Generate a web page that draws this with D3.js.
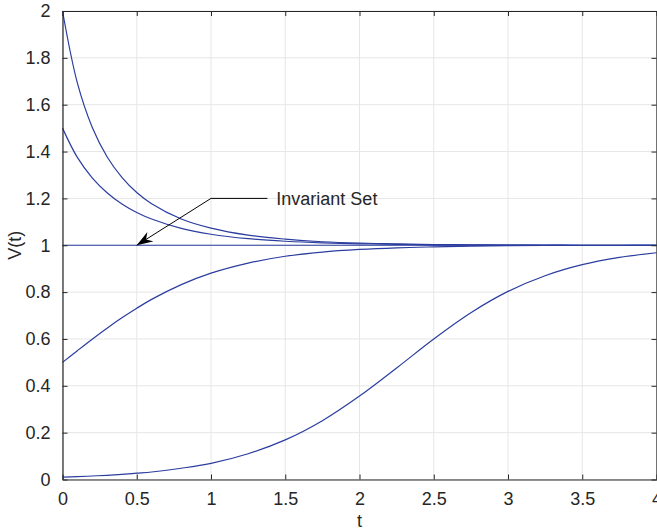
<!DOCTYPE html>
<html>
<head>
<meta charset="utf-8">
<script src="https://cdn.jsdelivr.net/npm/d3@7"></script>
<style>
  body { margin: 0; background: #fff; }
  #chart { width: 657px; height: 531px; }
  text { font-family: "Liberation Sans", Arial, Helvetica, sans-serif; fill: #262626; }
</style>
</head>
<body>
<div id="chart"></div>
<script>
// Sample times
var times = [0, 0.1, 0.2, 0.3, 0.4, 0.5, 0.6, 0.8, 1.0, 1.25, 1.5, 1.75, 2.0, 2.25, 2.5, 2.75, 3.0, 3.25, 3.5, 3.75, 4.0];

// V(t) for each trajectory
var startAt2 = [2.000, 1.693, 1.504, 1.378, 1.290, 1.225, 1.177, 1.112, 1.073, 1.043, 1.026, 1.015, 1.009, 1.006, 1.003, 1.002, 1.001, 1.001, 1.000, 1.000, 1.000];
var startAt15 = [1.500, 1.375, 1.288, 1.224, 1.176, 1.140, 1.112, 1.072, 1.047, 1.028, 1.017, 1.010, 1.006, 1.004, 1.002, 1.001, 1.001, 1.000, 1.000, 1.000, 1.000];
var startAt1 = [1, 1, 1, 1, 1, 1, 1, 1, 1, 1, 1, 1, 1, 1, 1, 1, 1, 1, 1, 1, 1];
var startAt05 = [0.500, 0.550, 0.599, 0.646, 0.690, 0.731, 0.769, 0.832, 0.881, 0.924, 0.953, 0.971, 0.982, 0.989, 0.993, 0.996, 0.998, 0.999, 0.999, 0.999, 1.000];
var startAt001 = [0.010, 0.012, 0.015, 0.018, 0.022, 0.027, 0.032, 0.048, 0.069, 0.110, 0.169, 0.251, 0.356, 0.476, 0.600, 0.712, 0.803, 0.870, 0.917, 0.948, 0.968];

var series = [startAt2, startAt15, startAt1, startAt05, startAt001];

// Tick labels
var xTicks = [0, 0.5, 1, 1.5, 2, 2.5, 3, 3.5, 4];
var yTicks = [0, 0.2, 0.4, 0.6, 0.8, 1, 1.2, 1.4, 1.6, 1.8, 2];

// Annotation (data units)
var noteText = 'Invariant Set';
var arrowTip = [0.5, 1];
var arrowElbow = [1, 1.2];
var noteLineEnd = [1.38, 1.2];
var notePos = [1.44, 1.2];

var fullWidth = 657, fullHeight = 531;
var margin = {top: 11, right: 0.5, bottom: 51.5, left: 62.5};
var width = fullWidth - margin.left - margin.right;
var height = fullHeight - margin.top - margin.bottom;

var svg = d3.select('#chart')
	.append('svg')
	.attr('width', fullWidth)
	.attr('height', fullHeight);

var g = svg.append('g')
	.attr('transform', 'translate(' + margin.left + ',' + margin.top + ')');

var xScale = d3.scaleLinear().domain([0, 4]).range([0, width]);
var yScale = d3.scaleLinear().domain([0, 2]).range([height, 0]);

// Grid
g.append('g').selectAll('line')
	.data(xTicks)
	.enter()
	.append('line')
	.attr('x1', function(d) { return xScale(d); })
	.attr('x2', function(d) { return xScale(d); })
	.attr('y1', 0)
	.attr('y2', height)
	.attr('stroke', '#e6e6e6')
	.attr('stroke-width', 1);

g.append('g').selectAll('line')
	.data(yTicks)
	.enter()
	.append('line')
	.attr('x1', 0)
	.attr('x2', width)
	.attr('y1', function(d) { return yScale(d); })
	.attr('y2', function(d) { return yScale(d); })
	.attr('stroke', '#e6e6e6')
	.attr('stroke-width', 1);

// Curves
var line = d3.line()
	.x(function(d, i) { return xScale(times[i]); })
	.y(function(d) { return yScale(d); })
	.curve(d3.curveCatmullRom);

g.selectAll('path.curve')
	.data(series)
	.enter()
	.append('path')
	.attr('class', 'curve')
	.attr('d', line)
	.attr('fill', 'none')
	.attr('stroke', '#2b3d9f')
	.attr('stroke-width', 1.2);

// Axes
function styleAxis(sel) {
	sel.select('.domain').attr('stroke', '#262626').attr('stroke-width', 1.2);
	sel.selectAll('.tick line').attr('stroke', '#262626').attr('stroke-width', 1);
	sel.selectAll('.tick text').style('font-size', '18px').attr('fill', '#262626');
}

var xAxis = g.append('g')
	.attr('transform', 'translate(0,' + height + ')')
	.call(d3.axisBottom(xScale).tickValues(xTicks).tickSizeInner(-5).tickSizeOuter(0).tickPadding(13).tickFormat(d3.format('')));
styleAxis(xAxis);

var yAxis = g.append('g')
	.call(d3.axisLeft(yScale).tickValues(yTicks).tickSizeInner(-5).tickSizeOuter(0).tickPadding(12).tickFormat(d3.format('')));
styleAxis(yAxis);

var topAxis = g.append('g')
	.call(d3.axisTop(xScale).tickValues(xTicks).tickSizeInner(-5).tickSizeOuter(0).tickFormat(''));
styleAxis(topAxis);

var rightAxis = g.append('g')
	.attr('transform', 'translate(' + width + ',0)')
	.call(d3.axisRight(yScale).tickValues(yTicks).tickSizeInner(-5).tickSizeOuter(0).tickFormat(''));
styleAxis(rightAxis);

// Axis labels
svg.append('text')
	.attr('x', margin.left + width / 2)
	.attr('y', 527)
	.attr('text-anchor', 'middle')
	.style('font-size', '18px')
	.text('t');

svg.append('text')
	.attr('transform', 'translate(21,' + (margin.top + height / 2) + ') rotate(-90)')
	.attr('text-anchor', 'middle')
	.style('font-size', '18px')
	.text('V(t)');

// Annotation arrow
svg.append('defs').append('marker')
	.attr('id', 'head')
	.attr('viewBox', '-16 -6 17 12')
	.attr('refX', 0)
	.attr('refY', 0)
	.attr('markerWidth', 17)
	.attr('markerHeight', 12)
	.attr('markerUnits', 'userSpaceOnUse')
	.attr('orient', 'auto')
	.append('path')
	.attr('d', 'M0,0 L-16,-5.5 L-11,0 L-16,5.5 Z')
	.attr('fill', '#000');

g.append('line')
	.attr('x1', xScale(noteLineEnd[0]))
	.attr('y1', yScale(noteLineEnd[1]))
	.attr('x2', xScale(arrowElbow[0]))
	.attr('y2', yScale(arrowElbow[1]))
	.attr('stroke', '#000')
	.attr('stroke-width', 1);

g.append('line')
	.attr('x1', xScale(arrowElbow[0]))
	.attr('y1', yScale(arrowElbow[1]))
	.attr('x2', xScale(arrowTip[0]))
	.attr('y2', yScale(arrowTip[1]))
	.attr('stroke', '#000')
	.attr('stroke-width', 1)
	.attr('marker-end', 'url(#head)');

g.append('text')
	.attr('x', xScale(notePos[0]))
	.attr('y', yScale(notePos[1]))
	.attr('dy', '0.35em')
	.style('font-size', '18px')
	.text(noteText);
</script>
</body>
</html>
